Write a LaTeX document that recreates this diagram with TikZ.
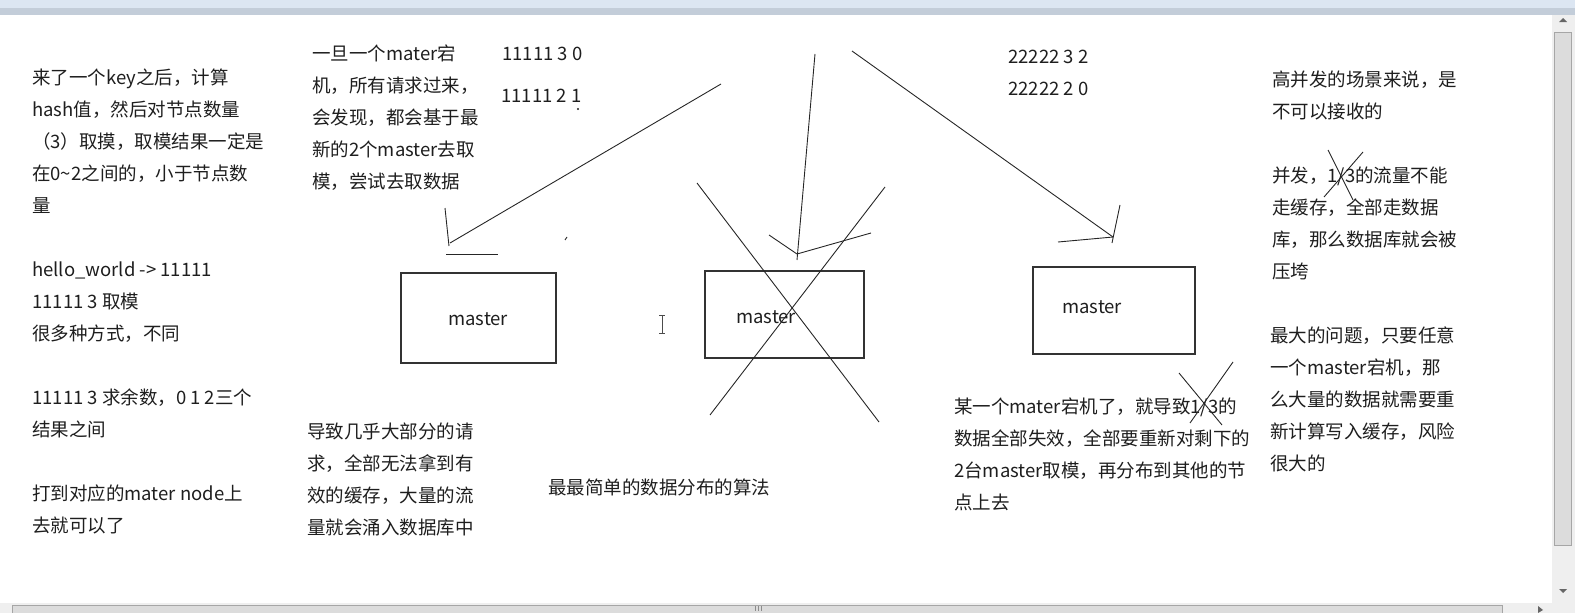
\documentclass[tikz,border=0pt]{standalone}
\usepackage{fontspec}
\setmainfont{Noto Sans CJK SC}
\definecolor{barblue}{HTML}{DCE6F2}
\definecolor{barband}{HTML}{C3CDD9}
\definecolor{track}{HTML}{EFEFEF}
\definecolor{thumb}{HTML}{DCDCDC}
\definecolor{ink}{HTML}{1E1E1E}
\begin{document}
\begin{tikzpicture}[x=1pt, y=-1pt,
  note/.style={anchor=base west, align=left, inner sep=0pt, text=ink, font=\fontsize{18.5pt}{32pt}\selectfont},
  box/.style={draw=black!80, line width=1.2pt, minimum height=88pt, inner sep=0pt},
  pen/.style={black!85, line width=0.9pt},
  chrome/.style={draw=black!35, fill=thumb, line width=0.6pt}]
\useasboundingbox (0,0) rectangle (1575,613);
% window chrome
\fill[barblue] (0,0) rectangle (1575,8);
\fill[barband] (0,8) rectangle (1575,15);
\fill[track] (1552,15) rectangle (1575,603);
\fill[track] (0,603) rectangle (1575,613);
\draw[chrome] (1554,32) rectangle (1571,545);
\draw[chrome] (12,605) rectangle (1502,613);
\fill[black!60] (1559,22) -- (1567,22) -- (1563,18) -- cycle;
\fill[black!60] (1559,589) -- (1567,589) -- (1563,593) -- cycle;
\fill[black!60] (1538,606) -- (1538,613) -- (1543,610) -- cycle;
\draw[black!45, line width=0.6pt] (755,606) -- (755,611) (758,606) -- (758,611) (761,606) -- (761,611);
% notes (anchored at the baseline of their last line)
\node[note] (noteHash) at (32,532) {来了一个key之后，计算\\hash值，然后对节点数量\\（3）取摸，取模结果一定是\\在0\textasciitilde2之间的，小于节点数\\量\\[32pt]hello\_world -> 11111\\11111 3 取模\\很多种方式，不同\\[32pt]11111 3 求余数，0 1 2三个\\结果之间\\[32pt]打到对应的mater node上\\去就可以了};
\node[note] (noteDown) at (312,188) {一旦一个mater宕\\机，所有请求过来，\\会发现，都会基于最\\新的2个master去取\\模，尝试去取数据};
\node[note] (noteMiss) at (307,534) {导致几乎大部分的请\\求，全部无法拿到有\\效的缓存，大量的流\\量就会涌入数据库中};
\node[note] (noteLoss) at (954,509) {某一个mater宕机了，就导致1/3的\\数据全部失效，全部要重新对剩下的\\2台master取模，再分布到其他的节\\点上去};
\node[note] (noteRisk) at (1270,470) {最大的问题，只要任意\\一个master宕机，那\\么大量的数据就需要重\\新计算写入缓存，风险\\很大的};
\node[note] (noteLoad) at (1272,278) {高并发的场景来说，是\\不可以接收的\\[32pt]并发，1/3的流量不能\\走缓存，全部走数据\\库，那么数据库就会被\\压垮};
\node[note] (caption) at (548,494) {最最简单的数据分布的算法};
% hash values
\node[note] (hashA) at (502,60) {11111 3 0};
\node[note] (hashB) at (501,102) {11111 2 1};
\node[note] (hashC) at (1008,63) {22222 3 2};
\node[note] (hashD) at (1008,95) {22222 2 0};
% masters
\node[box, minimum width=155pt, minimum height=90pt] (m1) at (478.5,318) {};
\node[box, minimum width=159pt, minimum height=87pt] (m2) at (784.5,314.5) {};
\node[box, minimum width=162pt, minimum height=87pt] (m3) at (1114,310.5) {};
\node[note] (m1text) at (448,325) {master};
\node[note] (m2text) at (736,323) {master};
\node[note] (m3text) at (1062,313) {master};
% stroke to the first master
\coordinate (Lfrom) at (721,84);
\coordinate (Ltip) at (450,243);
\coordinate (Lbarb) at (445,208);
\coordinate (Lfoot) at (449,246);
\coordinate (Lbar) at (446,254);
\coordinate (Lbarend) at (498,254);
\draw[pen] (Lfrom) -- (Ltip);
\draw[pen] (Lbarb) -- (Lfoot);
\draw[pen] (Lbar) -- (Lbarend);
% stroke to the second master
\coordinate (Mfrom) at (815,54);
\coordinate (Mtip) at (797,254);
\coordinate (Mtail) at (797,260);
\coordinate (MbarbL) at (769,235);
\coordinate (MbarbR) at (871,233);
\draw[pen] (Mfrom) -- (Mtail);
\draw[pen] (MbarbL) -- (Mtip) -- (MbarbR);
% stroke to the third master
\coordinate (Rfrom) at (852,51);
\coordinate (Rtip) at (1113,237);
\coordinate (Rbarb) at (1120,205);
\coordinate (Rfoot) at (1112,243);
\coordinate (Rwing) at (1058,242);
\draw[pen] (Rfrom) -- (Rtip);
\draw[pen] (Rbarb) -- (Rfoot);
\draw[pen] (Rwing) -- (Rtip);
% crossing out
\coordinate (XaTop) at (697,183);
\coordinate (XaBot) at (879,422);
\coordinate (XbTop) at (885,187);
\coordinate (XbBot) at (710,415);
\draw[pen] (XaTop) -- (XaBot);
\draw[pen] (XbTop) -- (XbBot);
\coordinate (YaTop) at (1179,373);
\coordinate (YaBot) at (1222,425);
\coordinate (YbTop) at (1233,362);
\coordinate (YbBot) at (1190,423);
\draw[pen] (YaTop) -- (YaBot);
\draw[pen] (YbTop) -- (YbBot);
\coordinate (ZaTop) at (1328,150);
\coordinate (ZaBot) at (1353,200);
\coordinate (ZbTop) at (1363,152);
\coordinate (ZbBot) at (1324,197);
\draw[pen] (ZaTop) -- (ZaBot);
\draw[pen] (ZbTop) -- (ZbBot);
% stray marks and cursor
\fill[ink] (578,109) circle (1.2);
\draw[pen] (565,240) -- (567,237);
\draw[black!70, line width=0.8pt] (662,315) -- (662,333) (659,315) -- (665,315) (659,333) -- (665,333);
\end{tikzpicture}
\end{document}
